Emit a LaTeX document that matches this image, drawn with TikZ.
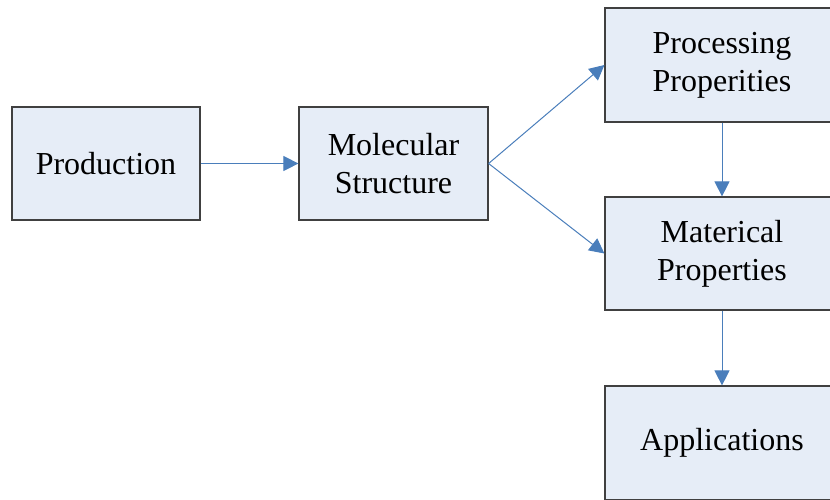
\documentclass[tikz,border=0pt]{standalone}
\usepackage{fontspec}
\setmainfont{Liberation Serif}
\usetikzlibrary{arrows.meta}
\definecolor{boxfill}{HTML}{E6EDF7}
\definecolor{boxline}{HTML}{404040}
\definecolor{arrowblue}{HTML}{4A7EBB}
\tikzset{
  blk/.style={draw=boxline, fill=boxfill, line width=1.2pt, rectangle, inner sep=0pt,
    align=center, font=\fontsize{32}{38}\selectfont, text=black},
  conn/.style={draw=arrowblue, line width=1pt, -{Triangle[length=15pt,width=15pt]}}
}
\begin{document}
\begin{tikzpicture}[x=1pt,y=-1pt]
\useasboundingbox (0,0) rectangle (830,499);
\node[blk, minimum width=188pt, minimum height=113pt] (prod) at (106,163.5) {Production};
\node[blk, minimum width=189pt, minimum height=113pt] (mol) at (393.5,163.5) {Molecular\\Structure};
\node[blk, minimum width=234pt, minimum height=114pt] (proc) at (722,65) {Processing\\Properities};
\node[blk, minimum width=234pt, minimum height=113pt] (mat) at (722,253.5) {Materical\\Properties};
\node[blk, minimum width=234pt, minimum height=114pt] (app) at (722,443) {Applications};
\draw[conn] (prod.east) -- (mol.west);
\draw[conn] (mol.east) -- (proc.west);
\draw[conn] (mol.east) -- (mat.west);
\draw[conn] (proc.south) -- (mat.north);
\draw[conn] (mat.south) -- (app.north);
\end{tikzpicture}
\end{document}
